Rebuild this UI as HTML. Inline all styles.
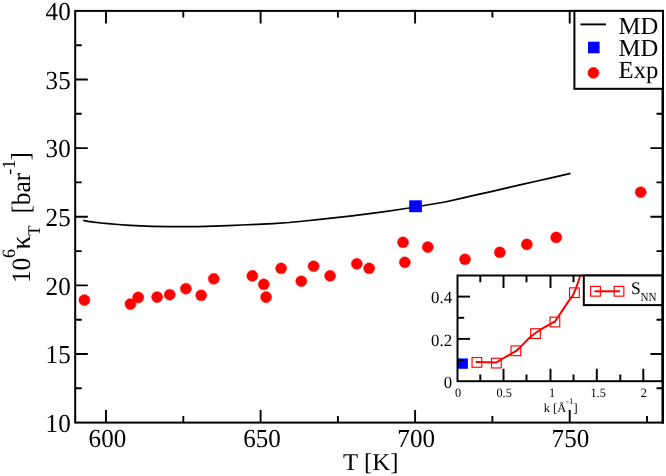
<!DOCTYPE html>
<html><head><meta charset="utf-8"><title>kappa_T</title>
<style>html,body{margin:0;padding:0;background:#fff;}body{width:666px;height:476px;overflow:hidden;}svg{display:block;will-change:transform;}text{font-family:"Liberation Serif",serif;fill:#000;text-rendering:geometricPrecision;}</style>
</head><body>
<svg width="666" height="476" viewBox="0 0 666 476">
<rect x="0" y="0" width="666" height="476" fill="#ffffff"/>
<g stroke="#000" stroke-width="1.9" fill="none">
<path d="M106.0,422.6 v-12.6 M106.0,10.9 v12.6"/>
<path d="M260.6,422.6 v-12.6 M260.6,10.9 v12.6"/>
<path d="M415.1,422.6 v-12.6 M415.1,10.9 v12.6"/>
<path d="M569.7,422.6 v-12.6 M569.7,10.9 v12.6"/>
<path d="M183.3,422.6 v-6.5 M183.3,10.9 v6.5"/>
<path d="M337.9,422.6 v-6.5 M337.9,10.9 v6.5"/>
<path d="M492.4,422.6 v-6.5 M492.4,10.9 v6.5"/>
<path d="M647.0,422.6 v-6.5 M647.0,10.9 v6.5"/>
<path d="M75.2,354.0 h12.6 M663.0,354.0 h-12.6"/>
<path d="M75.2,285.4 h12.6 M663.0,285.4 h-12.6"/>
<path d="M75.2,216.8 h12.6 M663.0,216.8 h-12.6"/>
<path d="M75.2,148.1 h12.6 M663.0,148.1 h-12.6"/>
<path d="M75.2,79.5 h12.6 M663.0,79.5 h-12.6"/>
<path d="M75.2,388.3 h6.5 M663.0,388.3 h-6.5"/>
<path d="M75.2,319.7 h6.5 M663.0,319.7 h-6.5"/>
<path d="M75.2,251.1 h6.5 M663.0,251.1 h-6.5"/>
<path d="M75.2,182.4 h6.5 M663.0,182.4 h-6.5"/>
<path d="M75.2,113.8 h6.5 M663.0,113.8 h-6.5"/>
<path d="M75.2,45.2 h6.5 M663.0,45.2 h-6.5"/>
</g>
<polyline fill="none" stroke="#000" stroke-width="1.75" stroke-linejoin="round" points="83.2,220.4 88.0,221.3 94.0,222.2 101.0,223.0 108.0,223.7 118.0,224.5 130.0,225.3 141.0,225.9 152.0,226.3 170.0,226.6 183.0,226.7 198.0,226.6 214.0,226.2 228.0,225.7 241.5,225.0 257.0,224.4 273.0,223.6 289.0,222.5 304.6,221.0 320.0,219.3 336.0,217.7 352.0,215.9 367.7,213.9 383.0,211.8 399.2,209.5 415.6,207.0 430.0,204.5 445.0,202.0 460.0,198.6 475.0,195.2 490.0,191.8 505.0,188.4 520.0,184.9 535.0,181.5 550.0,178.1 560.0,175.8 570.5,173.4"/>
<circle cx="84.4" cy="300.1" r="5.55" fill="#ff0000" stroke="#ff0000" stroke-width="0.8" stroke-dasharray="0.97 0.97"/>
<circle cx="130.4" cy="304.1" r="5.55" fill="#ff0000" stroke="#ff0000" stroke-width="0.8" stroke-dasharray="0.97 0.97"/>
<circle cx="138.2" cy="297.4" r="5.55" fill="#ff0000" stroke="#ff0000" stroke-width="0.8" stroke-dasharray="0.97 0.97"/>
<circle cx="157.1" cy="297.1" r="5.55" fill="#ff0000" stroke="#ff0000" stroke-width="0.8" stroke-dasharray="0.97 0.97"/>
<circle cx="169.7" cy="294.7" r="5.55" fill="#ff0000" stroke="#ff0000" stroke-width="0.8" stroke-dasharray="0.97 0.97"/>
<circle cx="185.9" cy="288.7" r="5.55" fill="#ff0000" stroke="#ff0000" stroke-width="0.8" stroke-dasharray="0.97 0.97"/>
<circle cx="201.2" cy="295.3" r="5.55" fill="#ff0000" stroke="#ff0000" stroke-width="0.8" stroke-dasharray="0.97 0.97"/>
<circle cx="213.8" cy="278.8" r="5.55" fill="#ff0000" stroke="#ff0000" stroke-width="0.8" stroke-dasharray="0.97 0.97"/>
<circle cx="252.3" cy="275.9" r="5.55" fill="#ff0000" stroke="#ff0000" stroke-width="0.8" stroke-dasharray="0.97 0.97"/>
<circle cx="263.8" cy="284.3" r="5.55" fill="#ff0000" stroke="#ff0000" stroke-width="0.8" stroke-dasharray="0.97 0.97"/>
<circle cx="266.1" cy="297.1" r="5.55" fill="#ff0000" stroke="#ff0000" stroke-width="0.8" stroke-dasharray="0.97 0.97"/>
<circle cx="281.1" cy="268.3" r="5.55" fill="#ff0000" stroke="#ff0000" stroke-width="0.8" stroke-dasharray="0.97 0.97"/>
<circle cx="301.3" cy="281.2" r="5.55" fill="#ff0000" stroke="#ff0000" stroke-width="0.8" stroke-dasharray="0.97 0.97"/>
<circle cx="313.6" cy="266.2" r="5.55" fill="#ff0000" stroke="#ff0000" stroke-width="0.8" stroke-dasharray="0.97 0.97"/>
<circle cx="330.1" cy="275.8" r="5.55" fill="#ff0000" stroke="#ff0000" stroke-width="0.8" stroke-dasharray="0.97 0.97"/>
<circle cx="356.8" cy="263.8" r="5.55" fill="#ff0000" stroke="#ff0000" stroke-width="0.8" stroke-dasharray="0.97 0.97"/>
<circle cx="369.1" cy="268.3" r="5.55" fill="#ff0000" stroke="#ff0000" stroke-width="0.8" stroke-dasharray="0.97 0.97"/>
<circle cx="403.0" cy="242.3" r="5.55" fill="#ff0000" stroke="#ff0000" stroke-width="0.8" stroke-dasharray="0.97 0.97"/>
<circle cx="404.8" cy="262.3" r="5.55" fill="#ff0000" stroke="#ff0000" stroke-width="0.8" stroke-dasharray="0.97 0.97"/>
<circle cx="427.8" cy="247.1" r="5.55" fill="#ff0000" stroke="#ff0000" stroke-width="0.8" stroke-dasharray="0.97 0.97"/>
<circle cx="465.0" cy="259.3" r="5.55" fill="#ff0000" stroke="#ff0000" stroke-width="0.8" stroke-dasharray="0.97 0.97"/>
<circle cx="499.8" cy="252.3" r="5.55" fill="#ff0000" stroke="#ff0000" stroke-width="0.8" stroke-dasharray="0.97 0.97"/>
<circle cx="526.8" cy="244.4" r="5.55" fill="#ff0000" stroke="#ff0000" stroke-width="0.8" stroke-dasharray="0.97 0.97"/>
<circle cx="556.2" cy="237.4" r="5.55" fill="#ff0000" stroke="#ff0000" stroke-width="0.8" stroke-dasharray="0.97 0.97"/>
<circle cx="640.7" cy="192.2" r="5.55" fill="#ff0000" stroke="#ff0000" stroke-width="0.8" stroke-dasharray="0.97 0.97"/>
<rect x="409.2" y="200.3" width="12.7" height="11.9" fill="#0000ff"/>
<clipPath id="ic"><rect x="457.5" y="275.5" width="205.0" height="105.7"/></clipPath>
<g clip-path="url(#ic)">
<polyline fill="none" stroke="#ff0000" stroke-width="2" stroke-linejoin="round" stroke-linecap="square" points="476.8,362.0 496.4,362.4 503.8,358.0 510.5,354.2 515.9,351.2 520.0,347.4 524.0,343.4 529.5,337.7 535.5,333.0 543.0,328.2 549.7,324.4 555.0,321.5 561.1,312.4 567.4,302.9 572.9,295.3 576.0,288.4 578.6,280.8 580.2,275.8 581.0,273.0"/>
</g>
<rect x="472.05" y="357.55" width="9.7" height="9.7" fill="none" stroke="#ff0000" stroke-width="1.15"/>
<rect x="491.55" y="358.25" width="9.7" height="9.7" fill="none" stroke="#ff0000" stroke-width="1.15"/>
<rect x="511.05" y="345.95" width="9.7" height="9.7" fill="none" stroke="#ff0000" stroke-width="1.15"/>
<rect x="530.65" y="328.75" width="9.7" height="9.7" fill="none" stroke="#ff0000" stroke-width="1.15"/>
<rect x="550.05" y="317.15" width="9.7" height="9.7" fill="none" stroke="#ff0000" stroke-width="1.15"/>
<rect x="569.55" y="287.85" width="9.7" height="9.7" fill="none" stroke="#ff0000" stroke-width="1.15"/>
<rect x="457.7" y="358.4" width="10.2" height="10.4" fill="#0000ff"/>
<g stroke="#000" stroke-width="1.95" fill="none">
<path d="M503.5,381.2 v-12.5 M503.5,275.5 v12.5"/>
<path d="M550.5,381.2 v-12.5 M550.5,275.5 v12.5"/>
<path d="M596.8,381.2 v-12.5 M596.8,275.5 v12.5"/>
<path d="M643.3,381.2 v-12.5 M643.3,275.5 v12.5"/>
<path d="M480.3,381.2 v-6.7 M480.3,275.5 v6.7"/>
<path d="M526.5,381.2 v-6.7 M526.5,275.5 v6.7"/>
<path d="M573.5,381.2 v-6.7 M573.5,275.5 v6.7"/>
<path d="M620.3,381.2 v-6.7 M620.3,275.5 v6.7"/>
<path d="M457.5,338.9 h12.5"/>
<path d="M457.5,296.6 h12.5"/>
<path d="M457.5,360.1 h6.7"/>
<path d="M457.5,317.8 h6.7"/>
<rect x="457.5" y="275.5" width="205.0" height="105.7"/>
</g>
<rect x="583.8" y="275.5" width="78.7" height="29.6" fill="#fff" stroke="#000" stroke-width="2"/>
<path d="M595.5,291.3 H619" stroke="#ff0000" stroke-width="2" stroke-linecap="square" fill="none"/>
<rect x="590.65" y="286.45" width="9.7" height="9.7" fill="none" stroke="#ff0000" stroke-width="1.15"/>
<rect x="614.15" y="286.45" width="9.7" height="9.7" fill="none" stroke="#ff0000" stroke-width="1.15"/>
<text transform="translate(631.00,293.90) scale(0.990,1)" font-size="17.7" text-anchor="start">S</text>
<text transform="translate(640.50,300.90) scale(0.900,1)" font-size="12.3" text-anchor="start">NN</text>
<text transform="translate(452.00,388.00) scale(0.985,1)" font-size="17" text-anchor="end">0</text>
<text transform="translate(452.00,345.72) scale(0.985,1)" font-size="17" text-anchor="end">0.2</text>
<text transform="translate(452.00,303.44) scale(0.985,1)" font-size="17" text-anchor="end">0.4</text>
<text transform="translate(458.00,396.80) scale(0.960,1)" font-size="12.8" text-anchor="middle">0</text>
<text transform="translate(504.10,396.80) scale(0.960,1)" font-size="12.8" text-anchor="middle">0.5</text>
<text transform="translate(552.00,396.80) scale(0.960,1)" font-size="12.8" text-anchor="middle">1</text>
<text transform="translate(598.10,396.80) scale(0.960,1)" font-size="12.8" text-anchor="middle">1.5</text>
<text transform="translate(643.80,396.80) scale(0.960,1)" font-size="12.8" text-anchor="middle">2</text>
<text transform="translate(543.80,412.10) scale(1.005,1)" font-size="12.3" text-anchor="start">k [Å<tspan dy="-8" font-size="8.7">-1</tspan><tspan dy="8">]</tspan></text>
<rect x="75.2" y="10.9" width="587.8" height="411.7" fill="none" stroke="#000" stroke-width="2.0"/>
<path d="M662.75,9.9 V423.6" stroke="#000" stroke-width="2.5" fill="none"/>
<rect x="574.4" y="10.9" width="88.6" height="77.9" fill="#fff" stroke="#000" stroke-width="2"/>
<path d="M580.5,24.4 H606" stroke="#000" stroke-width="1.9"/>
<rect x="588" y="41.7" width="11.6" height="11.6" fill="#0000ff"/>
<circle cx="593.4" cy="72.9" r="5.55" fill="#ff0000" stroke="#ff0000" stroke-width="0.8" stroke-dasharray="0.97 0.97"/>
<text transform="translate(618.60,33.60) scale(1.005,1)" font-size="24.6" text-anchor="start">MD</text>
<text transform="translate(618.60,55.95) scale(1.005,1)" font-size="24.6" text-anchor="start">MD</text>
<text transform="translate(618.60,78.25) scale(1.005,1)" font-size="24.6" text-anchor="start">Exp</text>
<text transform="translate(70.70,432.15) scale(0.965,1)" font-size="26" text-anchor="end">10</text>
<text transform="translate(70.70,363.43) scale(0.965,1)" font-size="26" text-anchor="end">15</text>
<text transform="translate(70.70,294.70) scale(0.965,1)" font-size="26" text-anchor="end">20</text>
<text transform="translate(70.70,225.98) scale(0.965,1)" font-size="26" text-anchor="end">25</text>
<text transform="translate(70.70,157.25) scale(0.965,1)" font-size="26" text-anchor="end">30</text>
<text transform="translate(70.70,88.53) scale(0.965,1)" font-size="26" text-anchor="end">35</text>
<text transform="translate(70.70,19.80) scale(0.965,1)" font-size="26" text-anchor="end">40</text>
<text transform="translate(107.40,447.30) scale(0.965,1)" font-size="26" text-anchor="middle">600</text>
<text transform="translate(261.97,447.30) scale(0.965,1)" font-size="26" text-anchor="middle">650</text>
<text transform="translate(416.15,447.30) scale(0.965,1)" font-size="26" text-anchor="middle">700</text>
<text transform="translate(570.42,447.30) scale(0.965,1)" font-size="26" text-anchor="middle">750</text>
<text transform="translate(370.80,469.60) scale(1.030,1)" font-size="24.1" text-anchor="middle">T [K]</text>
<g transform="translate(29.7,280) rotate(-90)">
<text transform="translate(-3.10,0.00) scale(0.955,1)" font-size="26.5">10</text>
<text transform="translate(21.90,-14.40) scale(0.955,1)" font-size="18.8">6</text>
<text transform="translate(30.50,0.00) scale(0.955,1)" font-size="28.5">κ</text>
<text transform="translate(44.30,10.00) scale(0.955,1)" font-size="17.8">T</text>
<text transform="translate(66.40,0.00) scale(0.955,1)" font-size="26.5">[bar</text>
<text transform="translate(105.30,-14.70) scale(0.955,1)" font-size="18.8">-1</text>
<text transform="translate(119.40,-1.00) scale(0.955,1)" font-size="26">]</text>
</g>
</svg>
</body></html>
